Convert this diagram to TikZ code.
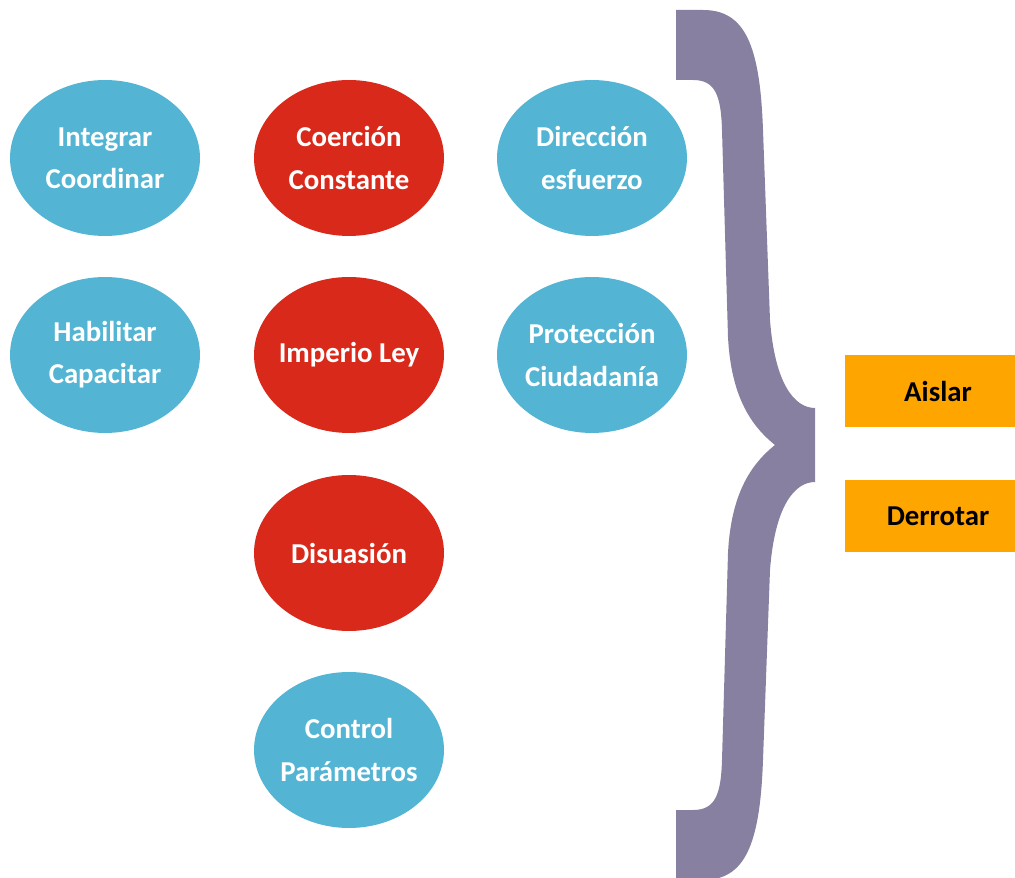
\documentclass[tikz,border=0pt]{standalone}
\usepackage{fontspec}
\setmainfont{Carlito}
\usetikzlibrary{shapes.geometric}

\definecolor{ovalblue}{RGB}{83,181,211}
\definecolor{ovalred}{RGB}{217,41,26}
\definecolor{boxorange}{RGB}{255,165,0}
\definecolor{bracepurple}{RGB}{135,128,160}

% keeps a wide label from widening its oval
\newcommand{\narrow}[1]{\makebox[2.5cm]{#1}}

\tikzset{
	oval/.style={ellipse, minimum width=3.8cm, minimum height=3.12cm, inner sep=0pt,
		align=center, text=white, font=\fontsize{16.4}{24}\selectfont\bfseries},
	blueoval/.style={oval, fill=ovalblue},
	redoval/.style={oval, fill=ovalred},
	orangebox/.style={rectangle, fill=boxorange, minimum width=3.72cm, minimum height=1.44cm,
		inner sep=0pt, text=black, font=\fontsize{16.4}{24}\selectfont\bfseries}
}

\begin{document}
\begin{tikzpicture}[x=0.02cm, y=-0.02cm]
	\clip (0,0) rectangle (1015,878);
	% left column
	\node[blueoval] (integrar) at (105,158) {Integrar\\Coordinar};
	\node[blueoval] (habilitar) at (105,355) {Habilitar\\Capacitar};
	% middle column
	\node[redoval] (coercion) at (349,158) {Coerción\\Constante};
	\node[redoval] (imperio) at (349,355) {\narrow{Imperio Ley}};
	\node[redoval] (disuasion) at (349,553) {Disuasión};
	\node[blueoval] (control) at (349,750) {Control\\\narrow{Parámetros}};
	% right column
	\node[blueoval] (direccion) at (592,158) {Dirección\\esfuerzo};
	\node[blueoval] (proteccion) at (592,355) {\narrow{Protección}\\\narrow{Ciudadanía}};
	% big brace
	\fill[bracepurple] (676,10) -- (703,10) .. controls (745,10) and (760,45) .. (763,130)
		-- (770,320) .. controls (775,385) and (795,408) .. (815,408)
		-- (815,482) .. controls (795,482) and (775,505) .. (770,570)
		-- (763,760) .. controls (760,845) and (745,880) .. (703,880)
		-- (676,880) -- (676,810) -- (693,810) .. controls (715,810) and (721,795) .. (722,760)
		-- (728,553) .. controls (731,495) and (750,465) .. (775,445)
		.. controls (750,425) and (731,395) .. (728,337)
		-- (722,130) .. controls (721,95) and (715,80) .. (693,80)
		-- (676,80) -- cycle;
	% outcomes
	\node[orangebox] (aislar) at (938,391) {Aislar};
	\node[orangebox] (derrotar) at (938,516) {Derrotar};
\end{tikzpicture}
\end{document}
